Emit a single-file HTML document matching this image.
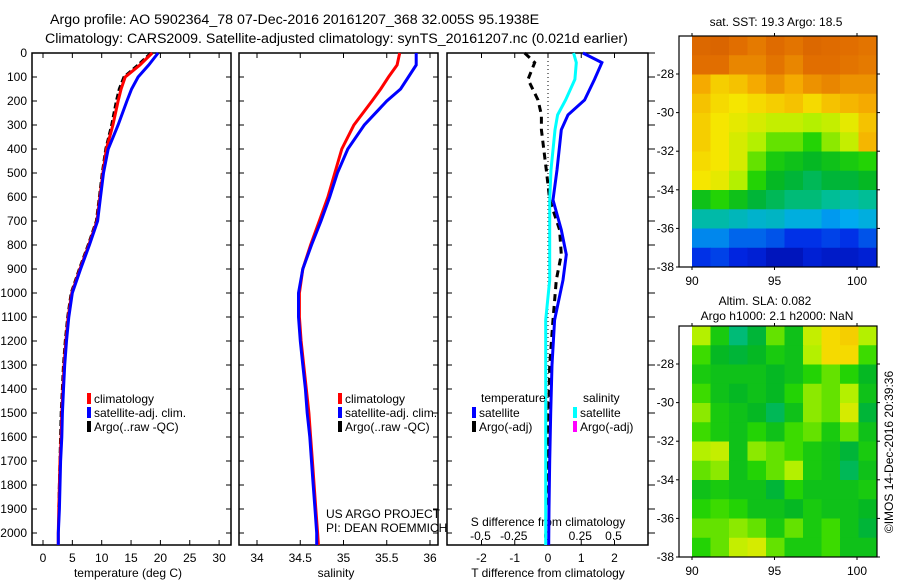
<!DOCTYPE html>
<html><head><meta charset="utf-8">
<style>
html,body{margin:0;padding:0;background:#fff;}
svg{display:block;font-family:"Liberation Sans",sans-serif;}
text{font-size:12px;fill:#000;}
</style></head>
<body>
<svg id="fig" width="900" height="580" viewBox="0 0 900 580" xmlns="http://www.w3.org/2000/svg">
<text x="50" y="24" style="font-size:14.2px">Argo profile: AO 5902364_78 07-Dec-2016 20161207_368 32.005S 95.1938E</text>
<text x="45" y="43" style="font-size:14.2px">Climatology: CARS2009. Satellite-adjusted climatology: synTS_20161207.nc (0.021d earlier)</text>
<g id="g"></g>
</svg>
<script>
// ---- data ----
const depthT = [0,50,100,150,200,300,400,500,600,700,800,900,1000,1100,1200,1300,1400,1500,1600,1700,1800,1900,2000,2050];
const tempClim = [18.6,16.5,14.0,13.3,12.8,11.9,10.8,10.2,9.7,9.2,7.8,6.3,4.9,4.3,3.9,3.6,3.4,3.2,3.1,2.9,2.8,2.7,2.6,2.6];
const tempSat  = [19.6,18.0,16.2,15.1,14.3,12.8,11.1,10.3,9.8,9.3,7.9,6.4,5.0,4.4,4.0,3.7,3.5,3.3,3.2,3.0,2.9,2.8,2.6,2.6];
const tempArgo = [18.4,16.2,13.8,13.0,12.5,11.7,10.7,10.1,9.6,9.1,7.7,6.2,4.8,4.2,3.8,3.5,3.3,3.1,3.0,2.9,2.8,2.7];
const salClim = [35.65,35.62,35.52,35.43,35.33,35.12,34.98,34.90,34.82,34.72,34.62,34.53,34.49,34.49,34.51,34.54,34.57,34.60,34.62,34.64,34.66,34.68,34.70,34.71];
const salSat  = [35.84,35.84,35.75,35.66,35.50,35.24,35.05,34.93,34.84,34.74,34.63,34.53,34.48,34.48,34.50,34.53,34.56,34.58,34.61,34.63,34.65,34.67,34.69,34.69];
const depthD = [0,40,110,196,258,320,487,612,737,840,946,1112,1300,1500,1700,1900,2050];
const tDiffSat = [1.05,1.62,1.4,1.1,0.6,0.4,0.27,0.15,0.4,0.55,0.45,0.2,0.12,0.08,0.05,0.03,0.02];
const sDiffSat = [0.2,0.22,0.21,0.14,0.08,0.06,0.03,0.02,0.02,0.02,0.02,-0.01,-0.01,-0.01,-0.01,-0.01,-0.01];
const tDiffArgo = [-0.7,-0.4,-0.6,-0.3,-0.2,-0.2,-0.05,0.05,0.35,0.4,0.25,0.15,0.05,0.02,0.0,0.0];
const depthTicks = [0,100,200,300,400,500,600,700,800,900,1000,1100,1200,1300,1400,1500,1600,1700,1800,1900,2000];
const tempTicks = [0,5,10,15,20,25,30];
const salTicks = [34,34.5,35,35.5,36];
const salTickLabels = ["34","34.5","35","35.5","36"];
const tDiffTicks = [-2,-1,0,1,2];
const sDiffTicks = [-0.5,-0.25,0,0.25,0.5];
const mapLatTicks = [-28,-30,-32,-34,-36,-38];
const mapLonTicks = [90,95,100];
const sstGrid = [
[0.92,0.93,0.90,0.88,0.91,0.89,0.92,0.91,0.90,0.89],
[0.90,0.90,0.86,0.86,0.89,0.86,0.90,0.90,0.89,0.88],
[0.80,0.74,0.76,0.80,0.84,0.80,0.84,0.86,0.84,0.84],
[0.76,0.72,0.70,0.72,0.74,0.76,0.72,0.76,0.78,0.80],
[0.74,0.70,0.68,0.66,0.64,0.64,0.62,0.64,0.68,0.76],
[0.74,0.70,0.66,0.62,0.58,0.58,0.54,0.60,0.64,0.78],
[0.72,0.70,0.66,0.58,0.52,0.50,0.48,0.50,0.52,0.54],
[0.70,0.68,0.62,0.54,0.48,0.46,0.44,0.46,0.46,0.48],
[0.50,0.54,0.50,0.46,0.44,0.42,0.42,0.40,0.38,0.40],
[0.38,0.38,0.36,0.34,0.35,0.32,0.32,0.28,0.30,0.32],
[0.26,0.26,0.22,0.22,0.20,0.16,0.16,0.18,0.16,0.20],
[0.16,0.18,0.14,0.12,0.08,0.08,0.12,0.10,0.10,0.12]];
const slaGrid = [
[0.62,0.52,0.42,0.46,0.58,0.50,0.64,0.72,0.74,0.62],
[0.56,0.48,0.46,0.48,0.52,0.50,0.62,0.72,0.72,0.56],
[0.52,0.50,0.50,0.50,0.48,0.50,0.54,0.58,0.54,0.48],
[0.56,0.50,0.48,0.50,0.48,0.54,0.60,0.58,0.62,0.50],
[0.60,0.52,0.50,0.48,0.44,0.50,0.60,0.58,0.66,0.46],
[0.56,0.52,0.50,0.54,0.50,0.56,0.58,0.52,0.58,0.50],
[0.62,0.64,0.50,0.60,0.58,0.56,0.52,0.50,0.46,0.52],
[0.58,0.60,0.50,0.54,0.58,0.62,0.52,0.50,0.44,0.50],
[0.50,0.52,0.50,0.50,0.46,0.54,0.50,0.50,0.50,0.52],
[0.54,0.56,0.54,0.50,0.50,0.48,0.52,0.50,0.50,0.48],
[0.58,0.58,0.60,0.58,0.52,0.58,0.52,0.56,0.50,0.46],
[0.54,0.58,0.64,0.66,0.58,0.52,0.52,0.56,0.50,0.50]];

// ---- helpers ----
const NS="http://www.w3.org/2000/svg";
const G=document.getElementById('g');
function el(tag,attrs,parent){const e=document.createElementNS(NS,tag);for(const k in attrs)e.setAttribute(k,attrs[k]);(parent||G).appendChild(e);return e;}
function txt(x,y,s,anchor,name,size){const t=el('text',{x:x,y:y,'text-anchor':anchor||'start'});if(size)t.style.fontSize=size+'px';t.textContent=s;


return t;}
const yD=d=>53+d*0.24;
const xT=t=>43+t*5.87;
const xS=s=>257+(s-34)*86.5;
const xTd=v=>548+v*33.25;
const xSd=v=>547+v*133;

function frame(x0,x1,name){const r=el('rect',{x:x0,y:53,width:x1-x0,height:492,fill:'none',stroke:'#000','stroke-width':1.5});

}
function line(xs,ds,xf,color,name,dash){const pts=xs.map((v,i)=>xf(v).toFixed(1)+','+yD(ds[i]).toFixed(1)).join(' ');
const p=el('polyline',{points:pts,fill:'none',stroke:color,'stroke-width':3,'stroke-linejoin':'miter'});
if(dash)p.setAttribute('stroke-dasharray',dash);

}
function legendBar(x,y,color,label,name){const r=el('rect',{x:x,y:y-10,width:4,height:11,fill:color});


txt(x+7,y,label,'start',name);}

// ---- panel 1: temperature ----
frame(32,231,'temperature-panel-frame');
depthTicks.forEach(d=>{el('line',{x1:32,x2:37,y1:yD(d),y2:yD(d),stroke:'#000'});el('line',{x1:231,x2:226,y1:yD(d),y2:yD(d),stroke:'#000'});
txt(27,yD(d)+4,String(d),'end','depth-tick-label');});
tempTicks.forEach(t=>{el('line',{x1:xT(t),x2:xT(t),y1:53,y2:58,stroke:'#000'});el('line',{x1:xT(t),x2:xT(t),y1:545,y2:540,stroke:'#000'});
txt(xT(t),562,String(t),'middle','temperature-tick-label');});
txt(128,577,'temperature (deg C)','middle','temperature-axis-title');
line(tempArgo,depthT.slice(0,tempArgo.length),xT,'#000','temperature-argo-line','6,3');
line(tempClim,depthT,xT,'#ff0000','temperature-climatology-line');
line(tempSat,depthT,xT,'#0000ff','temperature-satellite-line');
legendBar(87,403,'#ff0000','climatology','legend-climatology');
legendBar(87,417,'#0000ff','satellite-adj. clim.','legend-satellite');
legendBar(87,431,'#000','Argo(..raw -QC)','legend-argo');

// ---- panel 2: salinity ----
frame(239,438,'salinity-panel-frame');
depthTicks.forEach(d=>{el('line',{x1:239,x2:244,y1:yD(d),y2:yD(d),stroke:'#000'});el('line',{x1:438,x2:433,y1:yD(d),y2:yD(d),stroke:'#000'});});
salTicks.forEach((s,i)=>{el('line',{x1:xS(s),x2:xS(s),y1:53,y2:58,stroke:'#000'});el('line',{x1:xS(s),x2:xS(s),y1:545,y2:540,stroke:'#000'});
txt(xS(s),562,salTickLabels[i],'middle','salinity-tick-label');});
txt(336,577,'salinity','middle','salinity-axis-title');
line(salClim,depthT,xS,'#ff0000','salinity-climatology-line');
line(salSat,depthT,xS,'#0000ff','salinity-satellite-line');
legendBar(338,403,'#ff0000','climatology','legend-sal-climatology');
legendBar(338,417,'#0000ff','satellite-adj. clim.','legend-sal-satellite');
legendBar(338,431,'#000','Argo(..raw -QC)','legend-sal-argo');
txt(326,518,'US ARGO PROJECT','start','project-credit');
txt(326,532,'PI: DEAN ROEMMICH','start','pi-credit');

// ---- panel 3: differences ----
frame(447,648,'difference-panel-frame');
depthTicks.forEach(d=>{el('line',{x1:447,x2:452,y1:yD(d),y2:yD(d),stroke:'#000'});el('line',{x1:648,x2:655,y1:yD(d),y2:yD(d),stroke:'#000'});});
tDiffTicks.forEach(v=>{el('line',{x1:xTd(v),x2:xTd(v),y1:53,y2:58,stroke:'#000'});el('line',{x1:xTd(v),x2:xTd(v),y1:545,y2:540,stroke:'#000'});
txt(xTd(v),562,String(v),'middle','t-diff-tick-label');});
sDiffTicks.forEach(v=>{txt(xSd(v),540,String(v),'middle','s-diff-tick-label');});
txt(548,526,'S difference from climatology','middle','s-diff-axis-title');
txt(548,577,'T difference from climatology','middle','t-diff-axis-title');
el('line',{x1:xTd(0),x2:xTd(0),y1:53,y2:545,stroke:'#000','stroke-dasharray':'1,3'});
line(tDiffArgo,depthD.slice(0,tDiffArgo.length),xTd,'#000','t-diff-argo-line','7,5');
line(sDiffSat,depthD,xSd,'#00ffff','s-diff-satellite-line');
line(tDiffSat,depthD,xTd,'#0000ff','t-diff-satellite-line');
txt(481,402,'temperature','start','legend-temperature-heading');
txt(583,402,'salinity','start','legend-salinity-heading');
legendBar(472,417,'#0000ff','satellite','legend-t-satellite');
legendBar(472,431,'#000','Argo(-adj)','legend-t-argo');
legendBar(573,417,'#00ffff','satellite','legend-s-satellite');
legendBar(573,431,'#ff00ff','Argo(-adj)','legend-s-argo');

// ---- maps ----
const stops=[[0,[0,0,140]],[0.15,[0,40,230]],[0.3,[0,170,240]],[0.4,[0,190,150]],[0.47,[0,180,40]],[0.55,[40,215,0]],[0.62,[180,240,0]],[0.7,[245,230,0]],[0.8,[245,170,0]],[0.9,[225,110,0]],[1,[200,80,0]]];
function cmap(v){for(let i=1;i<stops.length;i++){if(v<=stops[i][0]){const a=stops[i-1],b=stops[i],f=(v-a[0])/(b[0]-a[0]);
return 'rgb('+a[1].map((c,k)=>Math.round(c+f*(b[1][k]-c))).join(',')+')';}}return 'rgb(200,80,0)';}
function map(y0,grid,name){const x0=679,x1=877,y1=y0+231;
const lonX=l=>692+(l-90)*16.5, latY=la=>(y0+231)-(la+38)*19.3;
const cols=grid[0].length,rows=grid.length,cw=(x1-692)/cols,rh=231/rows;
grid.forEach((row,r)=>row.forEach((v,c)=>{const e=el('rect',{x:692+c*cw,y:y0+r*rh,width:cw+0.5,height:rh+0.5,fill:cmap(v)});

}));
const fr=el('rect',{x:x0,y:y0,width:x1-x0,height:231,fill:'none',stroke:'#000','stroke-width':1.2});


mapLatTicks.forEach(la=>{const y=latY(la);el('line',{x1:x0,x2:x0-3,y1:y,y2:y,stroke:'#000'});el('line',{x1:x1,x2:x1+3,y1:y,y2:y,stroke:'#000'});
txt(x0-5,y+4,String(la),'end',name+'-lat-label');});
mapLonTicks.forEach(l=>{const x=lonX(l);el('line',{x1:x,x2:x,y1:y1,y2:y1+3,stroke:'#000'});el('line',{x1:x,x2:x,y1:y0,y2:y0-3,stroke:'#000'});
txt(x,y1+18,String(l),'middle',name+'-lon-label');});}
map(36,sstGrid,'sst-map');
map(326,slaGrid,'sla-map');
txt(776,26,'sat. SST: 19.3 Argo: 18.5','middle','sst-map-title');
txt(765,305,'Altim. SLA: 0.082','middle','sla-map-title');
txt(777,320,'Argo h1000: 2.1 h2000: NaN','middle','sla-map-subtitle');
const c=txt(0,0,'©IMOS 14-Dec-2016 20:39:36','middle','imos-credit');
c.setAttribute('transform','translate(893,452) rotate(-90)');
</script>
</body></html>
